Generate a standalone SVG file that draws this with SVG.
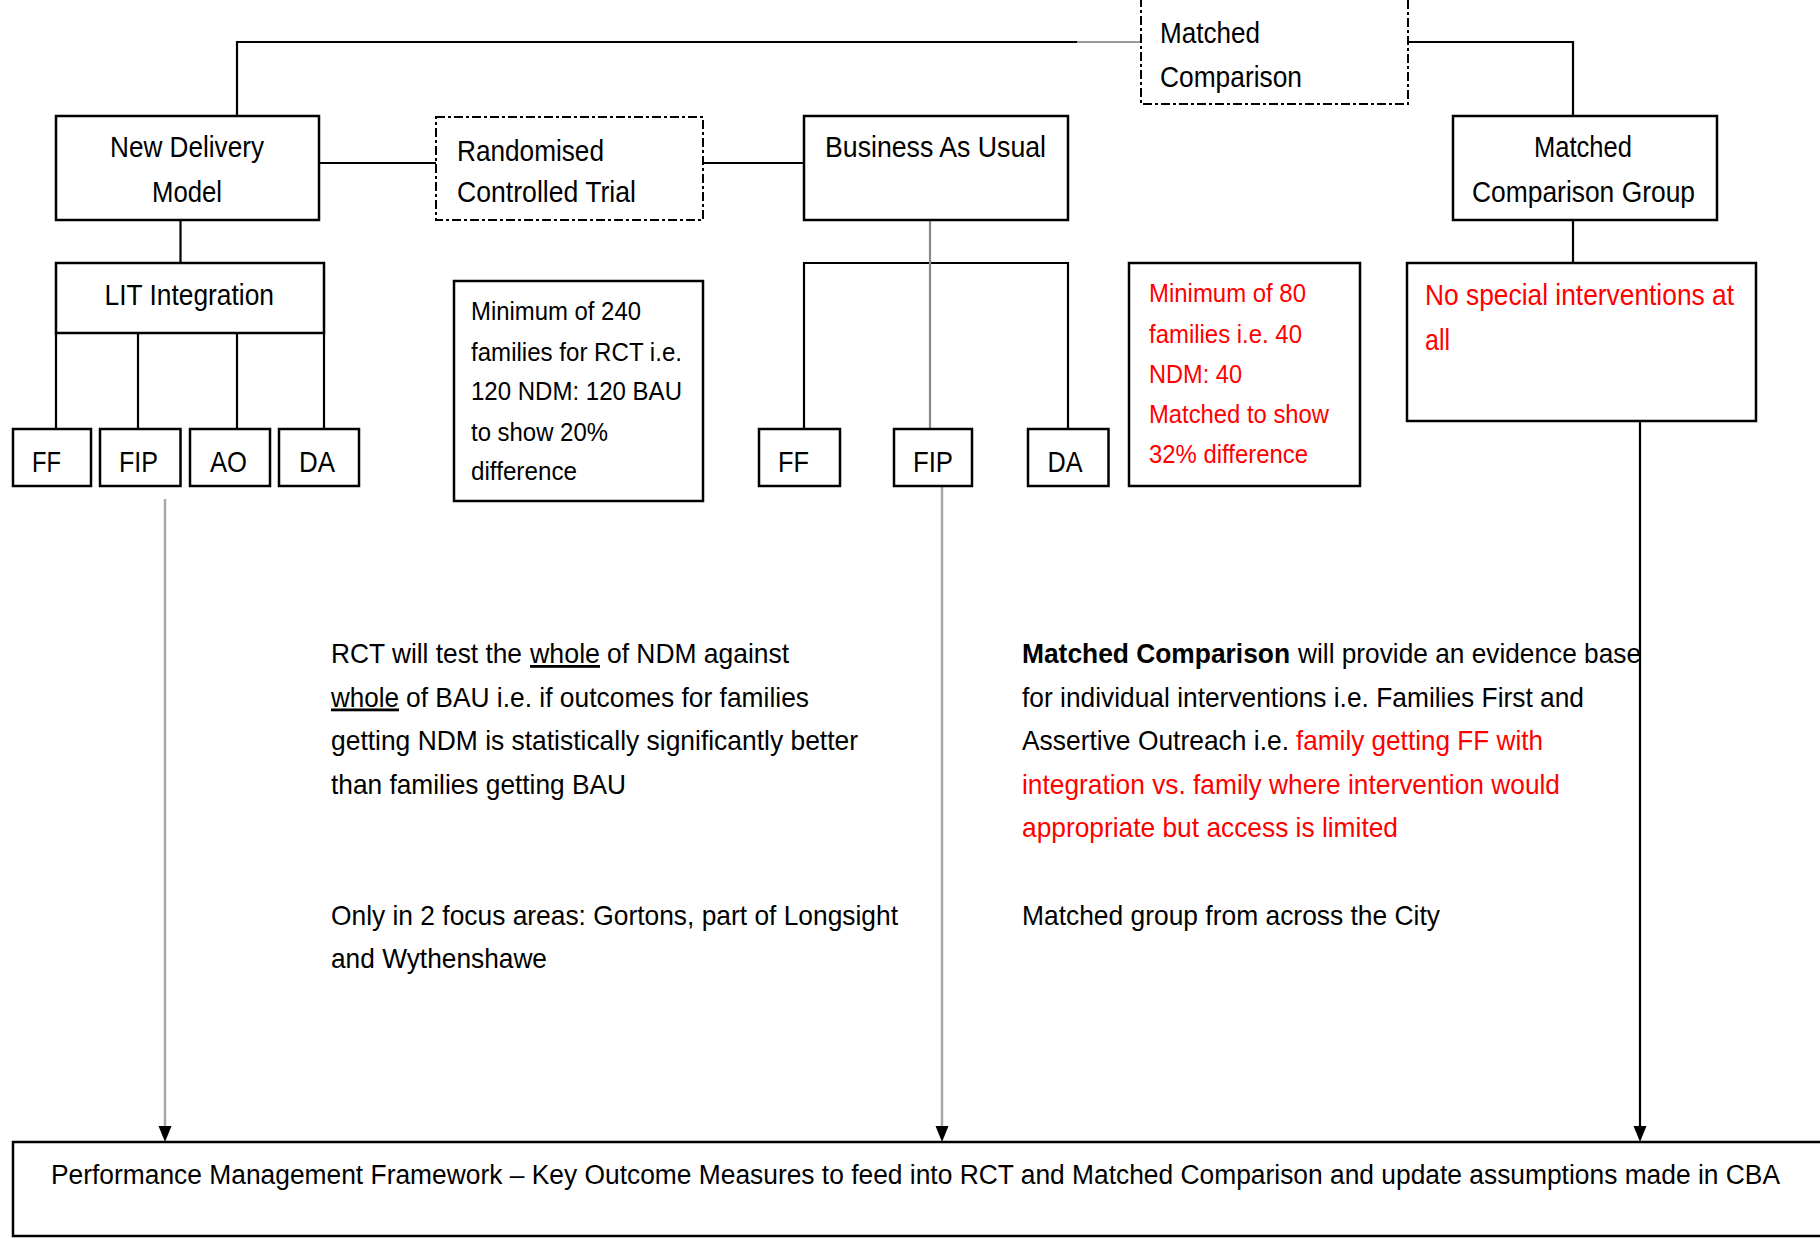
<svg xmlns="http://www.w3.org/2000/svg" width="1820" height="1239" viewBox="0 0 1820 1239">
<style>
text{font-family:"Liberation Sans",Arial,sans-serif;fill:#000}
.t{font-size:30px}
.s{font-size:26px}
.b{font-size:28px}
.f{font-size:27px}
.red{fill:#ff0000}
.u{text-decoration:underline}
.bold{font-weight:bold}
.box{fill:#fff;stroke:#000;stroke-width:2.5}
.dash{fill:#fff;stroke:#000;stroke-width:2;stroke-dasharray:9 3 3 3}
.ln{fill:none;stroke:#000;stroke-width:2.2}
.g1{fill:none;stroke:#8a8a8a;stroke-width:2.2}
.g2{fill:none;stroke:#a8a8a8;stroke-width:2.5}
.ah{fill:#000}
</style>

<g id="connectors">
<polyline class="ln" points="237,116 237,42 1077,42"/>
<line x1="1077" y1="42" x2="1141" y2="42" stroke="#999" stroke-width="2.2"/>
<polyline class="ln" points="1408,42 1573,42 1573,116"/>
<line class="ln" x1="319" y1="163" x2="436" y2="163"/>
<line class="ln" x1="703" y1="163" x2="804" y2="163"/>
<line class="ln" x1="180.5" y1="220" x2="180.5" y2="263"/>
<line class="ln" x1="56" y1="333" x2="56" y2="429"/>
<line class="ln" x1="138" y1="333" x2="138" y2="429"/>
<line class="ln" x1="237" y1="333" x2="237" y2="429"/>
<line class="ln" x1="324" y1="333" x2="324" y2="429"/>
<polyline class="ln" points="804,429 804,263 1068,263 1068,429"/>
<line class="g1" x1="930" y1="220" x2="930" y2="429"/>
<line class="ln" x1="1573" y1="220" x2="1573" y2="263"/>
<line class="g2" x1="165" y1="499" x2="165" y2="1126"/>
<path class="ah" d="M158.5,1126 L171.5,1126 L165,1142 Z"/>
<line class="g2" x1="942" y1="486" x2="942" y2="1126"/>
<path class="ah" d="M935.5,1126 L948.5,1126 L942,1142 Z"/>
<line class="ln" x1="1640" y1="421" x2="1640" y2="1126"/>
<path class="ah" d="M1633.5,1126 L1646.5,1126 L1640,1142 Z"/>
</g>

<g id="matched-comparison">
<rect class="dash" x="1141" y="-3" width="267" height="107"/>
<text class="t" x="1160" y="43" textLength="100" lengthAdjust="spacingAndGlyphs">Matched</text>
<text class="t" x="1160" y="87" textLength="142" lengthAdjust="spacingAndGlyphs">Comparison</text>
</g>

<g id="new-delivery-model">
<rect class="box" x="56" y="116" width="263" height="104"/>
<text class="t" x="110" y="157" textLength="154" lengthAdjust="spacingAndGlyphs">New Delivery</text>
<text class="t" x="152" y="202" textLength="70" lengthAdjust="spacingAndGlyphs">Model</text>
</g>

<g id="rct">
<rect class="dash" x="436" y="117" width="267" height="103"/>
<text class="t" x="457" y="161" textLength="147" lengthAdjust="spacingAndGlyphs">Randomised</text>
<text class="t" x="457" y="202" textLength="179" lengthAdjust="spacingAndGlyphs">Controlled Trial</text>
</g>

<g id="business-as-usual">
<rect class="box" x="804" y="116" width="264" height="104"/>
<text class="t" x="825" y="157" textLength="221" lengthAdjust="spacingAndGlyphs">Business As Usual</text>
</g>

<g id="matched-comparison-group">
<rect class="box" x="1453" y="116" width="264" height="104"/>
<text class="t" x="1534" y="157" textLength="98" lengthAdjust="spacingAndGlyphs">Matched</text>
<text class="t" x="1472" y="202" textLength="223" lengthAdjust="spacingAndGlyphs">Comparison Group</text>
</g>

<g id="lit-integration">
<rect class="box" x="56" y="263" width="268" height="70"/>
<text class="t" x="104.5" y="305" textLength="169.5" lengthAdjust="spacingAndGlyphs">LIT Integration</text>
</g>

<g id="ndm-ff">
<rect class="box" x="13" y="429" width="78" height="57"/>
<text class="t" x="32" y="472" textLength="29" lengthAdjust="spacingAndGlyphs">FF</text>
</g>
<g id="ndm-fip">
<rect class="box" x="100" y="429" width="80.5" height="57"/>
<text class="t" x="119" y="472" textLength="39" lengthAdjust="spacingAndGlyphs">FIP</text>
</g>
<g id="ndm-ao">
<rect class="box" x="190" y="429" width="80" height="57"/>
<text class="t" x="210" y="472" textLength="37" lengthAdjust="spacingAndGlyphs">AO</text>
</g>
<g id="ndm-da">
<rect class="box" x="279" y="429" width="80" height="57"/>
<text class="t" x="299" y="472" textLength="36" lengthAdjust="spacingAndGlyphs">DA</text>
</g>

<g id="rct-minimum">
<rect class="box" x="454" y="281" width="249" height="220"/>
<text class="s" x="471" y="320" textLength="170" lengthAdjust="spacingAndGlyphs">Minimum of 240</text>
<text class="s" x="471" y="361" textLength="211" lengthAdjust="spacingAndGlyphs">families for RCT i.e.</text>
<text class="s" x="471" y="400" textLength="211" lengthAdjust="spacingAndGlyphs">120 NDM: 120 BAU</text>
<text class="s" x="471" y="441" textLength="137" lengthAdjust="spacingAndGlyphs">to show 20%</text>
<text class="s" x="471" y="480" textLength="106" lengthAdjust="spacingAndGlyphs">difference</text>
</g>

<g id="bau-ff">
<rect class="box" x="759" y="429" width="81" height="57"/>
<text class="t" x="778" y="472" textLength="31" lengthAdjust="spacingAndGlyphs">FF</text>
</g>
<g id="bau-fip">
<rect class="box" x="894" y="429" width="78" height="57"/>
<text class="t" x="913" y="472" textLength="40" lengthAdjust="spacingAndGlyphs">FIP</text>
</g>
<g id="bau-da">
<rect class="box" x="1028" y="429" width="80.5" height="57"/>
<text class="t" x="1047.5" y="472" textLength="35" lengthAdjust="spacingAndGlyphs">DA</text>
</g>

<g id="matched-minimum">
<rect class="box" x="1129" y="263" width="231" height="223"/>
<text class="s red" x="1149" y="302" textLength="157" lengthAdjust="spacingAndGlyphs">Minimum of 80</text>
<text class="s red" x="1149" y="343" textLength="153" lengthAdjust="spacingAndGlyphs">families i.e. 40</text>
<text class="s red" x="1149" y="383" textLength="93" lengthAdjust="spacingAndGlyphs">NDM: 40</text>
<text class="s red" x="1149" y="423" textLength="180" lengthAdjust="spacingAndGlyphs">Matched to show</text>
<text class="s red" x="1149" y="463" textLength="159" lengthAdjust="spacingAndGlyphs">32% difference</text>
</g>

<g id="no-special">
<rect class="box" x="1407" y="263" width="349" height="158"/>
<text class="t red" x="1425" y="305" textLength="309" lengthAdjust="spacingAndGlyphs">No special interventions at</text>
<text class="t red" x="1425" y="350" textLength="25" lengthAdjust="spacingAndGlyphs">all</text>
</g>

<g id="rct-notes">
<text class="b" x="331" y="663" textLength="191" lengthAdjust="spacingAndGlyphs">RCT will test the</text>
<text class="b u" x="530" y="663" textLength="70" lengthAdjust="spacingAndGlyphs">whole</text>
<text class="b" x="607" y="663" textLength="182" lengthAdjust="spacingAndGlyphs">of NDM against</text>
<text class="b u" x="331" y="706.5" textLength="68" lengthAdjust="spacingAndGlyphs">whole</text>
<text class="b" x="406" y="706.5" textLength="403" lengthAdjust="spacingAndGlyphs">of BAU i.e. if outcomes for families</text>
<text class="b" x="331" y="750" textLength="527" lengthAdjust="spacingAndGlyphs">getting NDM is statistically significantly better</text>
<text class="b" x="331" y="793.5" textLength="295" lengthAdjust="spacingAndGlyphs">than families getting BAU</text>
<text class="b" x="331" y="925" textLength="567" lengthAdjust="spacingAndGlyphs">Only in 2 focus areas: Gortons, part of Longsight</text>
<text class="b" x="331" y="968" textLength="216" lengthAdjust="spacingAndGlyphs">and Wythenshawe</text>
</g>

<g id="matched-notes">
<text class="b bold" x="1022" y="663" textLength="268" lengthAdjust="spacingAndGlyphs">Matched Comparison</text>
<text class="b" x="1298" y="663" textLength="343" lengthAdjust="spacingAndGlyphs">will provide an evidence base</text>
<text class="b" x="1022" y="706.5" textLength="562" lengthAdjust="spacingAndGlyphs">for individual interventions i.e. Families First and</text>
<text class="b" x="1022" y="750" textLength="267" lengthAdjust="spacingAndGlyphs">Assertive Outreach i.e.</text>
<text class="b red" x="1296" y="750" textLength="247" lengthAdjust="spacingAndGlyphs">family getting FF with</text>
<text class="b red" x="1022" y="793.5" textLength="538" lengthAdjust="spacingAndGlyphs">integration vs. family where intervention would</text>
<text class="b red" x="1022" y="837" textLength="376" lengthAdjust="spacingAndGlyphs">appropriate but access is limited</text>
<text class="b" x="1022" y="925" textLength="418" lengthAdjust="spacingAndGlyphs">Matched group from across the City</text>
</g>

<g id="performance-framework">
<rect class="box" x="13" y="1142" width="1820" height="94"/>
<text class="f" x="51" y="1184" textLength="1729" lengthAdjust="spacingAndGlyphs">Performance Management Framework – Key Outcome Measures to feed into RCT and Matched Comparison and update assumptions made in CBA</text>
</g>
</svg>
